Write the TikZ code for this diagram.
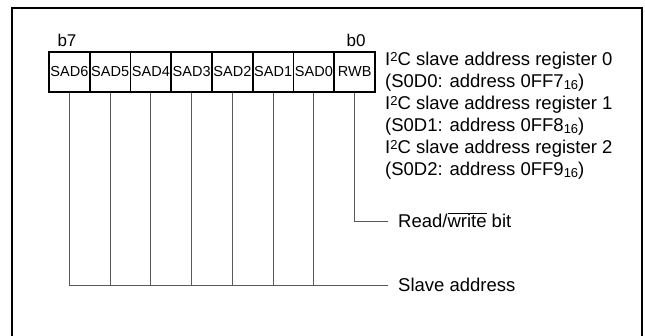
\documentclass[tikz,border=0pt]{standalone}
\usepackage{fontspec}
\setmainfont{Liberation Sans}
\usetikzlibrary{positioning}
\newcommand{\regsup}[1]{\raisebox{4pt}{\fontsize{13}{13}\selectfont #1}}
\newcommand{\regsub}[1]{\raisebox{-2pt}{\fontsize{13}{13}\selectfont #1}}

\begin{document}
\begin{tikzpicture}[x=1pt,y=-1pt, every node/.style={font=\fontsize{18.5}{22}\selectfont, inner sep=0pt}]
    \tikzset{bitbox/.style={draw, line width=1.6pt, minimum width=40.75pt, minimum height=40pt, font=\fontsize{14.5}{16}\selectfont},
             lead/.style={black!65, line width=0.9pt}}
    \useasboundingbox (0,0) rectangle (645,336);
    \draw[line width=2pt] (12,345) -- (12,8) -- (642,8) -- (642,345);
    % register bits
    \foreach \name/\txt [count=\i from 0] in {sad6/SAD6,sad5/SAD5,sad4/SAD4,sad3/SAD3,sad2/SAD2,sad1/SAD1,sad0/SAD0,rwb/RWB}
        \node[bitbox] (\name) at (69.4+40.75*\i,72) {\txt};
    \node[anchor=base, font=\fontsize{17}{20}\selectfont] (b7) at (67,46.7) {b7};
    \node[anchor=base, font=\fontsize{17}{20}\selectfont] (b0) at (356,46.7) {b0};
    % register names
    \foreach \i/\a in {0/7,1/8,2/9} {
        \node[anchor=base west] (reg\i) at (385,65.5+44*\i) {I\regsup{2}C slave address register \i};
        \node[anchor=base west] (adr\i) at (385,87.5+44*\i) {(S0D\i: address 0FF\a\regsub{16})};
    }
    % leaders
    \coordinate (rw) at (388,221);
    \coordinate (sa) at (388,285);
    \node[anchor=base west] (rwtext) at (398,228) {Read/$\overline{\mbox{write}}$ bit};
    \node[anchor=base west] (satext) at (398,292) {Slave address};
    \draw[lead] (rwb.south) |- (rw);
    \foreach \name in {sad6,sad5,sad4,sad3,sad2,sad1,sad0}
        \draw[lead] (\name.south) -- (\name.south |- sa);
    \draw[lead] (sad6.south |- sa) -- (sa);
\end{tikzpicture}
\end{document}
